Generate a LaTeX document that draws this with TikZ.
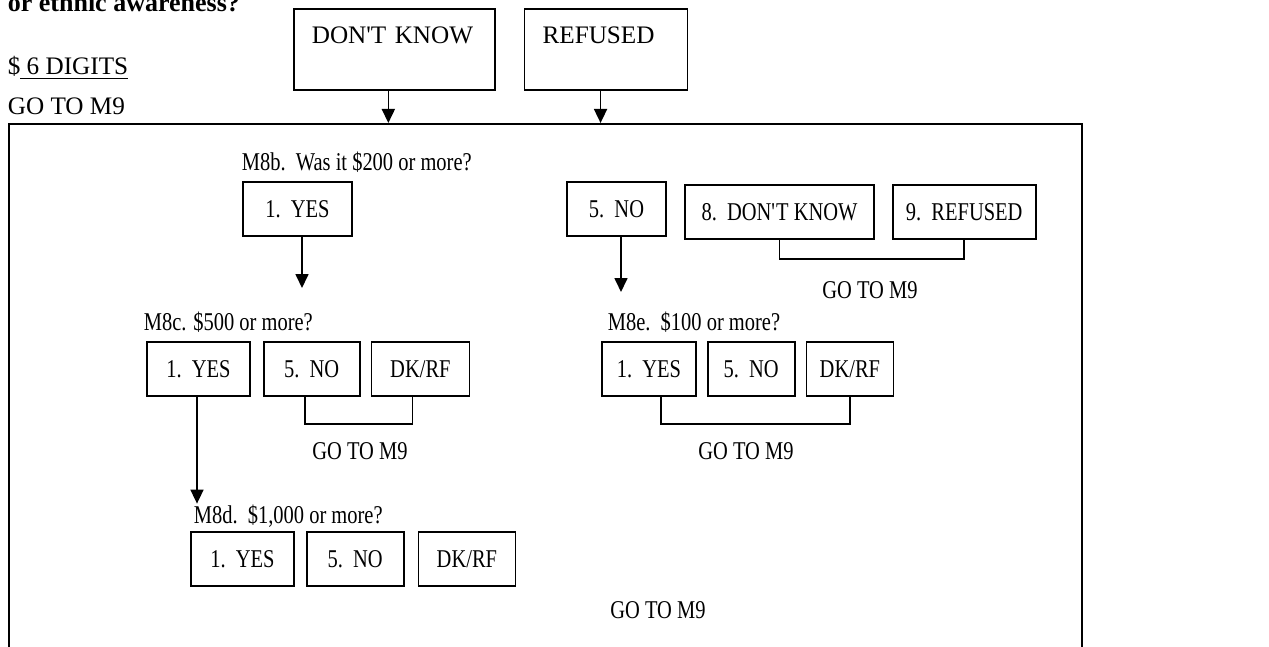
\documentclass[tikz,border=0pt]{standalone}
\usepackage{fontspec}
\setmainfont{Liberation Serif}
\newfontfamily\narrowserif{Liberation Serif}[FakeStretch=0.8]
\usetikzlibrary{arrows.meta,positioning}

\begin{document}
\begin{tikzpicture}[x=0.5pt,y=-0.5pt,>={Triangle[length=7pt,width=6.5pt]},line width=0.85pt,
  every node/.style={inner sep=0pt},
  topbox/.style={draw,font=\fontsize{12.6}{15}\selectfont,align=left,inner xsep=9pt,
    text height=17.5pt,text depth=23pt},
  optbox/.style={draw,font=\narrowserif\fontsize{12.8}{15}\selectfont,minimum height=27pt},
  qtext/.style={anchor=base west,font=\narrowserif\fontsize{12.8}{15}\selectfont},
  skipto/.style={anchor=base,font=\narrowserif\fontsize{12.8}{15}\selectfont}]
 \useasboundingbox (0,0) rectangle (1269,647);
 %\draw[red] (0,0) rectangle (1269,647);

 % top of the page
 \node[anchor=base west,font=\bfseries\fontsize{13}{15}\selectfont] (head) at (7,12) {or ethnic awareness?};
 \node[anchor=base west,font=\fontsize{12.6}{15}\selectfont] (digits) at (7,75) {\$\underline{\ 6 DIGITS}};
 \node[anchor=base west,font=\fontsize{12.6}{15}\selectfont] (goto0) at (7,115) {GO TO M9};

 \node[topbox,text width=82.5pt,anchor=north west] (dk) at (293,8) {DON\textquotesingle T KNOW};
 \node[topbox,text width=63.5pt,right=14pt of dk]   (rf)             {REFUSED};

 \node[draw,anchor=north west,minimum width=536.5pt,minimum height=278.5pt] (frame) at (8,123) {};

 \draw[->] ([xshift=-3pt]dk.south) -- ([xshift=-3pt]dk.south |- frame.north);
 \draw[->] ([xshift=-2.75pt]rf.south) -- ([xshift=-2.75pt]rf.south |- frame.north);

 % M8b
 \node[qtext] (m8b) at (241,170) {M8b.\ \ Was it \$200 or more?};
 \node[optbox,minimum width=54.5pt] (b1) at (297.5,209)    {1.\ \ YES};
 \node[optbox,minimum width=49.5pt] (b5) at (616.5,209)    {5.\ \ NO};
 \node[optbox,minimum width=94.5pt] (b8) at (779.5,212)    {8.\ \ DON\textquotesingle T KNOW};
 \node[optbox,minimum width=71.5pt,right=8.5pt of b8] (b9) {9.\ \ REFUSED};
 \node[skipto] (skipb) at (870,298) {GO TO M9};

 \coordinate (yesend) at (302,288);
 \coordinate (noend)  at (621,292);
 \draw[->] (b1.south -| yesend) -- (yesend);
 \draw[->] (b5.south -| noend) -- (noend);
 \draw (b8.south) -- ++(0,19) -| (b9.south);

 % M8c
 \node[qtext] (m8c) at (143,330) {M8c. \$500 or more?};
 \node[optbox,minimum width=51.5pt] (c1) at (198.5,369)  {1.\ \ YES};
 \node[optbox,minimum width=48pt,right=6pt of c1] (c5)   {5.\ \ NO};
 \node[optbox,minimum width=49pt,right=5pt of c5] (c9)   {DK/RF};
 \node[skipto] (skipc) at (360,459) {GO TO M9};
 \draw ([xshift=-3.5pt]c5.south) -- ++(0,27) -| ([xshift=-4pt]c9.south);

 % M8e
 \node[qtext] (m8e) at (607,330) {M8e.\ \ \$100 or more?};
 \node[optbox,minimum width=47pt] (e1) at (649,369)       {1.\ \ YES};
 \node[optbox,minimum width=43.5pt,right=5pt of e1] (e5) {5.\ \ NO};
 \node[optbox,minimum width=43.5pt,right=5pt of e5] (e9) {DK/RF};
 \node[skipto] (skipe) at (746,459) {GO TO M9};
 \draw ([xshift=6pt]e1.south) -- ++(0,27) -| (e9.south);

 % M8d
 \node[qtext] (m8d) at (193,523) {M8d.\ \ \$1,000 or more?};
 \node[optbox,minimum width=51.5pt] (d1) at (242.5,559)    {1.\ \ YES};
 \node[optbox,minimum width=48.5pt,right=5.5pt of d1] (d5) {5.\ \ NO};
 \node[optbox,minimum width=48.5pt,right=6.5pt of d5] (d9) {DK/RF};
 \node[skipto] (skipd) at (658,618) {GO TO M9};
 \draw[->] ([xshift=-0.75pt]c1.south) -- ([xshift=-0.75pt]c1.south |- m8d.north);
\end{tikzpicture}
\end{document}
